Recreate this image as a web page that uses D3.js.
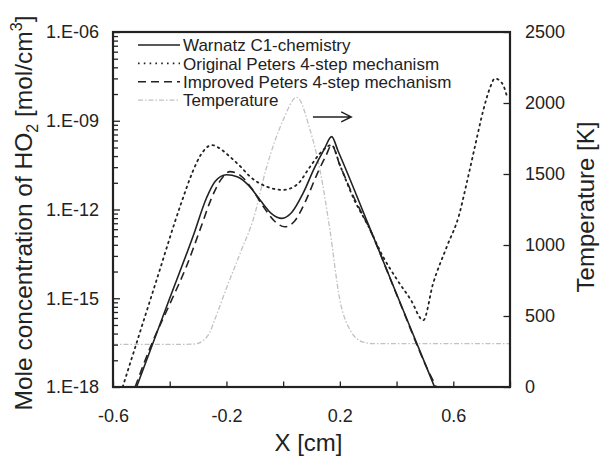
<!DOCTYPE html>
<html>
<head>
<meta charset="utf-8">
<script src="https://cdn.jsdelivr.net/npm/d3@7"></script>
<style>
  body { margin: 0; background: #fff; }
  svg { display: block; font-family: "Liberation Sans", Arial, sans-serif; }
</style>
</head>
<body>
<div id="chart"></div>
<script>
// HO2 mole concentration [mol/cm3] vs X [cm]
const xWarnatz = [-0.517, -0.4, -0.317, -0.27, -0.24, -0.2, -0.16, -0.12, -0.08, -0.04, -0.005,
  0.03, 0.07, 0.11, 0.145, 0.171, 0.194, 0.3, 0.4, 0.512, 0.534];
const ho2Warnatz = [1.0e-18, 1.0e-15, 1.3e-13, 2.5e-12, 8.9e-12, 1.5e-11, 1.26e-11, 6.3e-12, 2.0e-12, 7.1e-13, 5.0e-13,
  7.9e-13, 3.5e-12, 2.5e-11, 1.1e-10, 2.9e-10, 9.3e-11, 3.2e-13, 1.4e-15, 3.3e-18, 1.0e-18];

const xOriginal = [-0.566, -0.45, -0.358, -0.32, -0.29, -0.252, -0.22, -0.187, -0.15, -0.117, -0.058, 0.0,
  0.048, 0.095, 0.13, 0.171, 0.2, 0.25, 0.3, 0.35, 0.4, 0.45, 0.494, 0.529, 0.577, 0.62, 0.647, 0.676,
  0.706, 0.729, 0.747, 0.765, 0.776, 0.79];
const ho2Original = [1.0e-18, 3.2e-15, 1.8e-12, 1.8e-11, 7.1e-11, 1.5e-10, 1.1e-10, 6.0e-11, 2.8e-11, 1.3e-11, 5.9e-12, 4.6e-12,
  6.8e-12, 2.8e-11, 7.9e-11, 1.5e-10, 3.2e-11, 2.2e-12, 2.8e-13, 2.8e-14, 4.5e-15, 8.9e-16, 1.8e-16, 3.2e-15, 5.5e-14, 6.3e-13, 7.6e-12, 1.3e-10,
  2.3e-9, 1.26e-8, 2.7e-8, 2.2e-8, 1.6e-8, 6.3e-9];

const xImproved = [-0.522, -0.464, -0.4, -0.34, -0.29, -0.252, -0.22, -0.188, -0.15, -0.11, -0.07, -0.03,
  0.006, 0.04, 0.08, 0.12, 0.15, 0.171, 0.2, 0.25, 0.3, 0.4, 0.512, 0.54];
const ho2Improved = [1.0e-18, 2.8e-17, 6.3e-16, 1.26e-14, 2.5e-13, 2.5e-12, 1.0e-11, 1.9e-11, 1.4e-11, 5.0e-12, 1.26e-12, 4.0e-13,
  2.6e-13, 4.0e-13, 2.0e-12, 1.6e-11, 6.3e-11, 1.5e-10, 3.2e-11, 2.5e-12, 2.8e-13, 1.35e-15, 3.5e-18, 1.0e-18];

// temperature [K], right axis
const xTemp = [-0.6, -0.35, -0.31, -0.28, -0.26, -0.24, -0.2, -0.15, -0.105, -0.058, 0.0, 0.048,
  0.095, 0.13, 0.165, 0.2, 0.236, 0.26, 0.28, 0.32, 0.8];
const temperature = [300, 300, 303, 330, 380, 480, 695, 950, 1183, 1551, 1880, 2040,
  1810, 1528, 1105, 613, 401, 340, 317, 305, 305];

const legendLabels = ["Warnatz C1-chemistry", "Original Peters 4-step mechanism",
  "Improved Peters 4-step mechanism", "Temperature"];

const xTickValues = [-0.6, -0.4, -0.2, 0, 0.2, 0.4, 0.6, 0.8];
const xTickLabels = ["-0.6", "", "-0.2", "", "0.2", "", "0.6", ""];
const yTickValues = [1e-18, 1e-15, 1e-12, 1e-9, 1e-6];
const yTickLabels = ["1.E-18", "1.E-15", "1.E-12", "1.E-09", "1.E-06"];
const tTickValues = [0, 500, 1000, 1500, 2000, 2500];
const tTickLabels = ["0", "500", "1000", "1500", "2000", "2500"];

const margin = { top: 32, right: 90, bottom: 71, left: 113 };
const width = 600;
const height = 458;
const ink = "#222";
const fontFamily = "Liberation Sans, Arial, sans-serif";

const x = d3.scaleLinear()
  .domain([-0.6, 0.8])
  .range([margin.left, width - margin.right]);
const y = d3.scaleLog()
  .domain([1e-18, 1e-6])
  .range([height - margin.bottom, margin.top]);
const yT = d3.scaleLinear()
  .domain([0, 2500])
  .range([height - margin.bottom, margin.top]);

const styles = {
  warnatz: { stroke: ink, width: 1.6, dash: null },
  original: { stroke: ink, width: 1.8, dash: "1.6,4.2" },
  improved: { stroke: ink, width: 1.6, dash: "8,5" },
  temp: { stroke: "#c2c2c2", width: 1.3, dash: "5,2,1.5,2" }
};

const series = [
  { key: "warnatz", xs: xWarnatz, ys: ho2Warnatz, scale: y },
  { key: "original", xs: xOriginal, ys: ho2Original, scale: y },
  { key: "improved", xs: xImproved, ys: ho2Improved, scale: y },
  { key: "temp", xs: xTemp, ys: temperature, scale: yT }
];

const svg = d3.select("#chart")
  .append("svg")
  .attr("width", width)
  .attr("height", height);

svg.append("clipPath")
    .attr("id", "plot-clip")
  .append("rect")
    .attr("x", margin.left)
    .attr("y", margin.top)
    .attr("width", width - margin.left - margin.right)
    .attr("height", height - margin.top - margin.bottom);

// curves (temperature first so it sits underneath)
const plot = svg.append("g").attr("clip-path", "url(#plot-clip)");
[series[3], series[0], series[1], series[2]].forEach(s => {
  const pts = s.xs.map((v, i) => [v, s.ys[i]]);
  const line = d3.line()
    .x(d => x(d[0]))
    .y(d => s.scale(d[1]))
    .curve(d3.curveMonotoneX);
  const st = styles[s.key];
  plot.append("path")
    .datum(pts)
    .attr("fill", "none")
    .attr("stroke", st.stroke)
    .attr("stroke-width", st.width)
    .attr("stroke-dasharray", st.dash)
    .attr("stroke-linecap", s.key === "original" ? "round" : "butt")
    .attr("d", line);
});

// log minor ticks: each 3-decade span split like one decade (k^3 steps)
let minorTicks = [];
for (let i = 0; i < yTickValues.length - 1; i++) {
  for (let k = 2; k <= 9; k++) {
    minorTicks.push(yTickValues[i] * k ** 3);
  }
}

const axisFont = 18;
const styleLabels = g => g.selectAll("text")
  .attr("fill", ink)
  .attr("font-size", axisFont)
  .attr("font-family", fontFamily);

// left axis
svg.append("g")
  .attr("transform", `translate(${margin.left},0)`)
  .call(d3.axisLeft(y)
    .tickValues(minorTicks)
    .tickSize(-5)
    .tickFormat(() => ""))
  .call(g => g.select(".domain").remove());

svg.append("g")
  .attr("transform", `translate(${margin.left},0)`)
  .call(d3.axisLeft(y)
    .tickValues(yTickValues)
    .tickSize(-7)
    .tickPadding(14)
    .tickFormat((d, i) => yTickLabels[i]))
  .call(g => g.select(".domain").remove())
  .call(styleLabels);

// right axis (temperature)
svg.append("g")
  .attr("transform", `translate(${width - margin.right},0)`)
  .call(d3.axisRight(yT)
    .tickValues(tTickValues)
    .tickSize(-6.5)
    .tickPadding(15)
    .tickFormat((d, i) => tTickLabels[i]))
  .call(g => g.select(".domain").remove())
  .call(styleLabels);

// bottom axis
svg.append("g")
  .attr("transform", `translate(0,${height - margin.bottom})`)
  .call(d3.axisBottom(x)
    .tickValues(xTickValues)
    .tickSize(-5.5)
    .tickPadding(22)
    .tickFormat((d, i) => xTickLabels[i]))
  .call(g => g.select(".domain").remove())
  .call(styleLabels);

svg.selectAll(".tick line").attr("stroke", ink).attr("stroke-width", 1.3);

// frame
svg.append("rect")
  .attr("x", margin.left)
  .attr("y", margin.top)
  .attr("width", width - margin.left - margin.right)
  .attr("height", height - margin.top - margin.bottom)
  .attr("fill", "none")
  .attr("stroke", ink)
  .attr("stroke-width", 2.2);

// axis titles
svg.append("text")
  .attr("x", (margin.left + width - margin.right) / 2 - 3)
  .attr("y", 451)
  .attr("text-anchor", "middle")
  .attr("font-size", 24)
  .attr("fill", ink)
  .text("X [cm]");

const yTitle = svg.append("text")
  .attr("transform", "translate(32,213) rotate(-90)")
  .attr("text-anchor", "middle")
  .attr("font-size", 24.5)
  .attr("fill", ink);
yTitle.append("tspan").text("Mole concentration of HO");
yTitle.append("tspan").attr("font-size", 16).attr("dy", 6).text("2");
yTitle.append("tspan").attr("dy", -6).text(" [mol/cm");
yTitle.append("tspan").attr("font-size", 16).attr("dy", -10).text("3");
yTitle.append("tspan").attr("dy", 10).text("]");

svg.append("text")
  .attr("transform", "translate(594,207) rotate(-90)")
  .attr("text-anchor", "middle")
  .attr("font-size", 24)
  .attr("fill", ink)
  .text("Temperature [K]");

// legend
const legendKeys = ["warnatz", "original", "improved", "temp"];
const legend = svg.append("g")
  .attr("transform", `translate(${margin.left + 25},${margin.top + 13})`);
legendLabels.forEach((label, i) => {
  const st = styles[legendKeys[i]];
  const row = legend.append("g").attr("transform", `translate(0,${i * 18.4})`);
  row.append("line")
    .attr("x1", 0)
    .attr("x2", 42)
    .attr("stroke", st.stroke)
    .attr("stroke-width", st.width)
    .attr("stroke-dasharray", st.dash);
  row.append("text")
    .attr("x", 45)
    .attr("dy", "0.36em")
    .attr("font-size", 17)
    .attr("fill", ink)
    .text(label);
});

// arrow pointing to the temperature axis
const arrowX = [0.105, 0.24];
const arrowY = 1.35e-9;
const ay = y(arrowY);
svg.append("path")
  .attr("d", `M${x(arrowX[0])},${ay}H${x(arrowX[1])}M${x(arrowX[1]) - 10},${ay - 5}L${x(arrowX[1])},${ay}L${x(arrowX[1]) - 10},${ay + 5}`)
  .attr("fill", "none")
  .attr("stroke", ink)
  .attr("stroke-width", 1.5);
</script>
</body>
</html>
